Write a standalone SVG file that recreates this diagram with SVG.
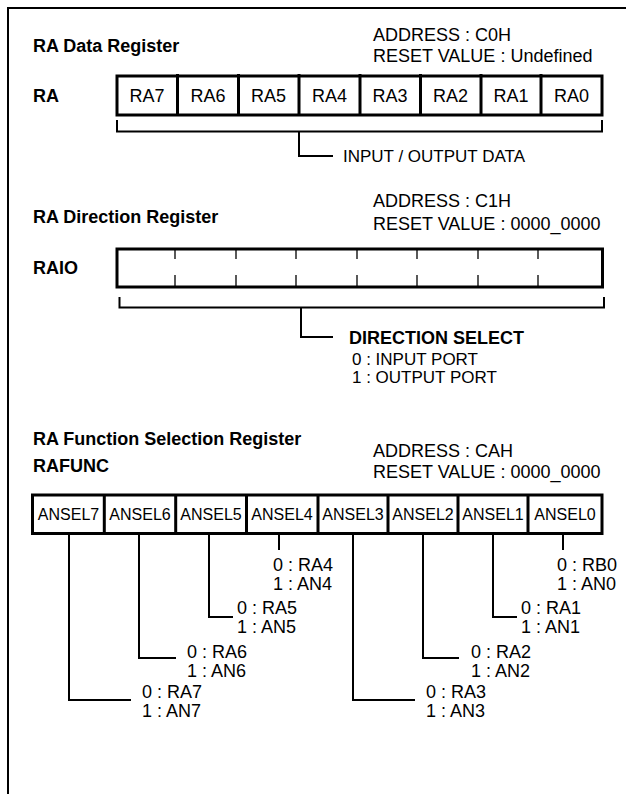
<svg xmlns="http://www.w3.org/2000/svg" width="626" height="794" viewBox="0 0 626 794">
<style>
text{font-family:"Liberation Sans",Arial,sans-serif;font-size:18px;fill:#000}
.b{font-weight:bold}
.c{text-anchor:middle}
.s{font-size:16px}
.m{font-size:17px}
.box{fill:#fff;stroke:#000;stroke-width:3}
.div{stroke:#000;stroke-width:3}
.tick{stroke:#000;stroke-width:1.3}
.ln{fill:none;stroke:#000;stroke-width:2}
</style>
<rect width="626" height="794" fill="#fff"/>
<g id="frame"><path class="ln" d="M8,794 V8 H626"/></g>

<g id="ra-data-register">
<text class="b" x="33" y="52">RA Data Register</text>
<text x="373" y="41">ADDRESS : C0H</text>
<text x="373" y="62">RESET VALUE : Undefined</text>
<text class="b" x="33" y="102">RA</text>
<rect class="box" x="117" y="76" width="485" height="39"/>
<path class="div" d="M177.5,74V115M238.5,74V115M299,74V115M360,74V115M420.5,74V115M481,74V115M541,74V115"/>
<text class="c" x="147" y="102">RA7</text>
<text class="c" x="208" y="102">RA6</text>
<text class="c" x="268.5" y="102">RA5</text>
<text class="c" x="329.5" y="102">RA4</text>
<text class="c" x="390" y="102">RA3</text>
<text class="c" x="450.5" y="102">RA2</text>
<text class="c" x="511" y="102">RA1</text>
<text class="c" x="571.5" y="102">RA0</text>
</g>

<g id="ra-direction-register">
<text class="b" x="33" y="223">RA Direction Register</text>
<text x="373" y="207">ADDRESS : C1H</text>
<text x="373" y="230">RESET VALUE : 0000_0000</text>
<text class="b" x="33" y="274">RAIO</text>
<rect class="box" x="117" y="249" width="485.5" height="38"/>
<path class="tick" d="M175,249V259M236,249V259M296,249V259M357,249V259M417,249V259M478,249V259M538,249V259M175,275V287M236,275V287M296,275V287M357,275V287M417,275V287M478,275V287M538,275V287"/>
</g>

<g id="ra-function-register">
<text class="b" x="33" y="445">RA Function Selection Register</text>
<text class="b" x="33" y="472">RAFUNC</text>
<text x="373" y="457">ADDRESS : CAH</text>
<text x="373" y="478">RESET VALUE : 0000_0000</text>
<rect class="box" x="32.5" y="495" width="569.5" height="38.5"/>
<path class="div" d="M104.3,495V533.5M175.7,495V533.5M246.5,495V533.5M318,495V533.5M388,495V533.5M458,495V533.5M528,495V533.5"/>
<text class="c s" x="68.5" y="520">ANSEL7</text>
<text class="c s" x="140" y="520">ANSEL6</text>
<text class="c s" x="211" y="520">ANSEL5</text>
<text class="c s" x="282" y="520">ANSEL4</text>
<text class="c s" x="353" y="520">ANSEL3</text>
<text class="c s" x="423" y="520">ANSEL2</text>
<text class="c s" x="493" y="520">ANSEL1</text>
<text class="c s" x="565" y="520">ANSEL0</text>
</g>

<g id="connectors">
<path class="ln" d="M117,120V131.5H602V120M299,131.5V156H333"/>
<path class="ln" d="M119.5,297V307.5H604V297M301,307.5V337H333"/>
<path class="ln" d="M279,533.5V550M563,533.5V550"/>
<path class="ln" d="M209,533.5V617H233M493,533.5V617H517"/>
<path class="ln" d="M139,533.5V658H176M423,533.5V658H459"/>
<path class="ln" d="M69,533.5V700H131M353,533.5V700H415"/>
</g>

<g id="labels">
<text class="m" x="343" y="162">INPUT / OUTPUT DATA</text>
<text class="b" x="349" y="344">DIRECTION SELECT</text>
<text class="m" x="352" y="365">0 : INPUT PORT</text>
<text class="m" x="352" y="383">1 : OUTPUT PORT</text>
<text x="273" y="571">0 : RA4</text>
<text x="273" y="590">1 : AN4</text>
<text x="557" y="571">0 : RB0</text>
<text x="557" y="590">1 : AN0</text>
<text x="237" y="614">0 : RA5</text>
<text x="237" y="633">1 : AN5</text>
<text x="521" y="614">0 : RA1</text>
<text x="521" y="633">1 : AN1</text>
<text x="187" y="658">0 : RA6</text>
<text x="187" y="677">1 : AN6</text>
<text x="471" y="658">0 : RA2</text>
<text x="471" y="677">1 : AN2</text>
<text x="142" y="698">0 : RA7</text>
<text x="142" y="717">1 : AN7</text>
<text x="426" y="698">0 : RA3</text>
<text x="426" y="717">1 : AN3</text>
</g>
</svg>
